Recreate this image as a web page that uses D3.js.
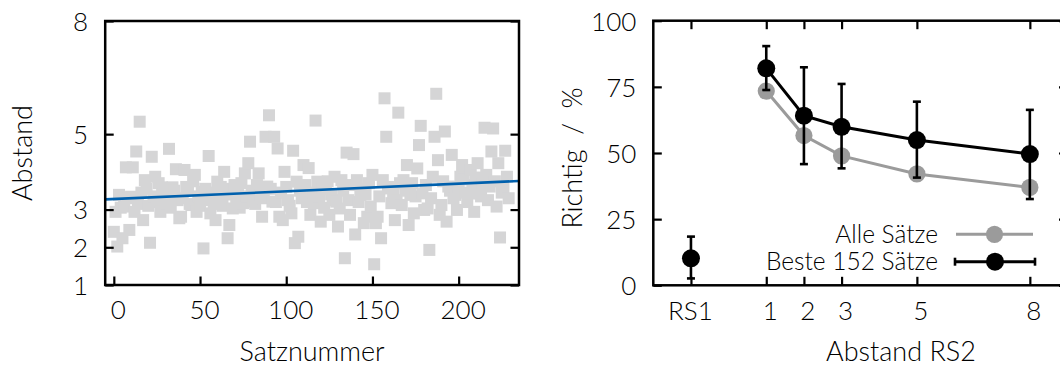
<!DOCTYPE html>
<html>
<head>
<meta charset="utf-8">
<script src="https://cdn.jsdelivr.net/npm/d3@7"></script>
<style>
  html, body { margin: 0; padding: 0; background: #fff; }
  svg { display: block; }
  text { font-family: "Lato Light", Lato, "Open Sans", sans-serif; font-weight: 300; fill: #000; }
</style>
</head>
<body>
<svg id="chart" width="1060" height="367"></svg>
<script>
// ---- Left panel: distance per sentence ----
const abstand = [
  2.41, 2.94, 2.02, 3.39, 3.05, 2.24, 3.08, 4.12, 3.30, 2.46,
  3.34, 4.12, 2.94, 4.54, 3.15, 5.33, 3.45, 2.72, 3.78, 3.55,
  3.10, 2.12, 4.40, 3.35, 3.87, 3.20, 3.70, 2.94, 3.59, 3.40,
  3.25, 3.17, 4.61, 3.05, 3.59, 3.50, 4.07, 3.25, 2.77, 2.81,
  3.30, 4.05, 3.60, 3.52, 3.15, 3.12, 3.75, 3.92, 2.94, 3.35,
  3.10, 3.47, 1.97, 3.55, 3.25, 4.42, 2.90, 3.45, 3.15, 2.72,
  3.74, 3.30, 3.60, 3.10, 4.00, 3.40, 2.24, 2.59, 3.55, 3.03,
  3.65, 3.25, 3.45, 3.05, 3.70, 3.17, 3.96, 3.35, 4.23, 4.80,
  3.50, 3.21, 3.15, 3.65, 3.96, 3.40, 2.81, 3.30, 4.93, 3.61,
  5.50, 3.55, 3.21, 4.93, 3.20, 4.62, 2.81, 3.45, 2.72, 4.00,
  3.60, 3.25, 3.10, 2.90, 4.56, 2.11, 3.74, 2.28, 3.50, 3.30,
  4.18, 3.65, 3.20, 4.10, 2.86, 3.45, 3.17, 5.36, 3.74, 3.35,
  2.68, 3.55, 3.05, 3.65, 3.75, 2.86, 3.40, 3.25, 3.87, 3.21,
  2.55, 3.03, 3.78, 3.50, 1.71, 4.51, 3.25, 2.86, 3.65, 4.47,
  2.34, 3.78, 3.20, 3.39, 3.55, 2.64, 3.40, 2.81, 3.70, 3.08,
  3.92, 1.55, 2.64, 2.81, 3.35, 2.24, 3.78, 5.95, 4.93, 3.60,
  3.56, 3.17, 3.45, 2.72, 3.25, 5.57, 3.70, 3.12, 3.78, 3.50,
  4.18, 2.59, 3.39, 3.70, 2.90, 3.35, 4.09, 4.71, 5.22, 3.43,
  2.99, 3.65, 3.03, 1.93, 3.30, 3.87, 4.93, 6.07, 4.31, 2.86,
  3.12, 3.75, 5.07, 2.68, 3.61, 3.50, 4.45, 3.30, 3.39, 2.99,
  3.60, 3.87, 4.18, 3.80, 3.45, 3.20, 3.43, 4.05, 3.65, 2.94,
  3.85, 4.23, 3.43, 3.35, 3.70, 5.17, 3.92, 3.25, 3.61, 4.54,
  5.15, 3.75, 3.08, 4.23, 2.26, 3.45, 3.55, 4.56, 3.87, 3.30
];
const satznummer = abstand.map((_, i) => i);
// linear fit of distance over sentence number
const fitIntercept = 3.28;
const fitSlope = 0.00203;
const leftXTicks = [0, 50, 100, 150, 200];
const leftYTicks = [1, 2, 3, 5, 8];

// ---- Right panel: accuracy over RS2 distance ----
const rs2Abstand = [1, 2, 3, 5, 8];
const alleSaetze = [73.4, 56.6, 48.9, 42.1, 37.0];
const besteSaetze = [82.0, 64.1, 59.9, 54.9, 49.6];
const besteLow = [73.8, 45.8, 44.2, 40.7, 32.6];
const besteHigh = [90.4, 82.4, 76.1, 69.4, 66.3];
const rs1Label = "RS1";
const rs1Value = 10.2;
const rs1Low = 2.6;
const rs1High = 18.4;
const rightYTicks = [0, 25, 50, 75, 100];
const legendLabels = ["Alle Sätze", "Beste 152 Sätze"];

const svg = d3.select("#chart");
const TICK = 8.5;
const FS = 26;
const GREY = "#9b9b9b";
const fmt = d3.format("d");

// ================= left panel =================
const L = { x0: 105.2, x1: 519, y0: 21, y1: 285 };
const xL = d3.scaleLinear().domain([-5, 235]).range([L.x0, L.x1]);
const yL = d3.scaleLinear().domain([1, 8]).range([L.y1, L.y0]);

const gL = svg.append("g");
const SQ = 12;
gL.append("g").selectAll("rect")
  .data(satznummer)
  .join("rect")
  .attr("x", i => xL(i) - SQ / 2)
  .attr("y", i => yL(abstand[i]) - SQ / 2)
  .attr("width", SQ).attr("height", SQ)
  .attr("fill", "#d5d5d6");

gL.append("line")
  .attr("x1", xL(-5)).attr("y1", yL(fitIntercept + fitSlope * -5))
  .attr("x2", xL(235)).attr("y2", yL(fitIntercept + fitSlope * 235))
  .attr("stroke", "#0060ad").attr("stroke-width", 2.6);

function styleAxis(g, showLabels) {
  g.select(".domain").remove();
  g.selectAll(".tick line").attr("stroke", "#000").attr("stroke-width", 2.2);
  g.selectAll(".tick text").style("font-size", FS + "px").attr("fill", "#000");
  if (!showLabels) g.selectAll(".tick text").remove();
}

gL.append("g").attr("transform", `translate(${L.x0},0)`)
  .call(d3.axisLeft(yL).tickValues(leftYTicks).tickFormat(fmt).tickSize(-TICK).tickPadding(17))
  .call(g => styleAxis(g, true))
  .call(g => g.selectAll(".tick text").attr("dy", "0.36em"));
gL.append("g").attr("transform", `translate(${L.x1},0)`)
  .call(d3.axisRight(yL).tickValues(leftYTicks).tickSize(-TICK))
  .call(g => styleAxis(g, false));
gL.append("g").attr("transform", `translate(0,${L.y1})`)
  .call(d3.axisBottom(xL).tickValues(leftXTicks).tickFormat(fmt).tickSize(-TICK).tickPadding(16))
  .call(g => styleAxis(g, true))
  .call(g => g.selectAll(".tick text").attr("dx", 4));

gL.append("rect")
  .attr("x", L.x0).attr("y", L.y0)
  .attr("width", L.x1 - L.x0).attr("height", L.y1 - L.y0)
  .attr("fill", "none").attr("stroke", "#000").attr("stroke-width", 2.5);

gL.append("text")
  .attr("transform", `translate(32,${(L.y0 + L.y1) / 2}) rotate(-90)`)
  .attr("text-anchor", "middle").style("font-size", (FS + 1) + "px")
  .text("Abstand");
gL.append("text")
  .attr("x", (L.x0 + L.x1) / 2).attr("y", 361)
  .attr("text-anchor", "middle").style("font-size", (FS + 1) + "px")
  .text("Satznummer");

// ================= right panel =================
const R = { x0: 653.3, x1: 1067.5, y0: 20.7, y1: 285.3 };
const RS1_X = -1;
const xR = d3.scaleLinear().domain([-2, 9]).range([R.x0, R.x1]);
const yR = d3.scaleLinear().domain([0, 100]).range([R.y1, R.y0]);
const gR = svg.append("g");

const xTicksR = [RS1_X].concat(rs2Abstand);
gR.append("g").attr("transform", `translate(${R.x0},0)`)
  .call(d3.axisLeft(yR).tickValues(rightYTicks).tickFormat(fmt).tickSize(-TICK).tickPadding(17))
  .call(g => styleAxis(g, true))
  .call(g => g.selectAll(".tick text").attr("dy", "0.36em"));
gR.append("g").attr("transform", `translate(${R.x1},0)`)
  .call(d3.axisRight(yR).tickValues(rightYTicks).tickSize(-TICK))
  .call(g => styleAxis(g, false));
gR.append("g").attr("transform", `translate(0,${R.y1})`)
  .call(d3.axisBottom(xR).tickValues(xTicksR).tickSize(-TICK).tickPadding(16)
    .tickFormat(d => d === RS1_X ? rs1Label : fmt(d)))
  .call(g => styleAxis(g, true))
  .call(g => g.selectAll(".tick text").attr("dx", d => d === RS1_X ? -1 : 3.5));
gR.append("g").attr("transform", `translate(0,${R.y0})`)
  .call(d3.axisTop(xR).tickValues(xTicksR).tickSize(-TICK))
  .call(g => styleAxis(g, false));

const LW = 3, EW = 2.6, CAP = 4, RB = 9, RG = 8.6;
const line = d3.line();

// all sentences (grey)
gR.append("path")
  .attr("d", line(rs2Abstand.map((d, i) => [xR(d), yR(alleSaetze[i])])))
  .attr("fill", "none").attr("stroke", GREY).attr("stroke-width", LW);
gR.append("g").selectAll("circle").data(rs2Abstand).join("circle")
  .attr("cx", d => xR(d)).attr("cy", (d, i) => yR(alleSaetze[i]))
  .attr("r", RG).attr("fill", GREY);

// best sentences (black) with error bars
function errorBar(g, x, lo, hi) {
  const px = xR(x);
  g.append("line").attr("x1", px).attr("x2", px).attr("y1", yR(lo)).attr("y2", yR(hi));
  g.append("line").attr("x1", px - CAP).attr("x2", px + CAP).attr("y1", yR(lo)).attr("y2", yR(lo));
  g.append("line").attr("x1", px - CAP).attr("x2", px + CAP).attr("y1", yR(hi)).attr("y2", yR(hi));
}
const eb = gR.append("g").attr("stroke", "#000").attr("stroke-width", EW);
rs2Abstand.forEach((d, i) => errorBar(eb, d, besteLow[i], besteHigh[i]));
errorBar(eb, RS1_X, rs1Low, rs1High);

gR.append("path")
  .attr("d", line(rs2Abstand.map((d, i) => [xR(d), yR(besteSaetze[i])])))
  .attr("fill", "none").attr("stroke", "#000").attr("stroke-width", LW);
gR.append("g").selectAll("circle").data(rs2Abstand).join("circle")
  .attr("cx", d => xR(d)).attr("cy", (d, i) => yR(besteSaetze[i]))
  .attr("r", RB).attr("fill", "#000");
gR.append("circle").attr("cx", xR(RS1_X)).attr("cy", yR(rs1Value))
  .attr("r", RB).attr("fill", "#000");

// legend
const lg = gR.append("g");
const legY = [234.3, 261.7];
const LFS = 24.5;
lg.append("text").attr("x", 938).attr("y", legY[0]).attr("dy", "0.35em")
  .attr("text-anchor", "end").style("font-size", LFS + "px").text(legendLabels[0]);
lg.append("line").attr("x1", 956).attr("x2", 1033).attr("y1", legY[0]).attr("y2", legY[0])
  .attr("stroke", GREY).attr("stroke-width", LW);
lg.append("circle").attr("cx", 994.5).attr("cy", legY[0]).attr("r", RG).attr("fill", GREY);

lg.append("text").attr("x", 938).attr("y", legY[1]).attr("dy", "0.35em")
  .attr("text-anchor", "end").style("font-size", LFS + "px").text(legendLabels[1]);
const lb = lg.append("g").attr("stroke", "#000");
lb.append("line").attr("x1", 955).attr("x2", 1035).attr("y1", legY[1]).attr("y2", legY[1]).attr("stroke-width", LW);
lb.append("line").attr("x1", 955).attr("x2", 955).attr("y1", legY[1] - CAP).attr("y2", legY[1] + CAP).attr("stroke-width", EW);
lb.append("line").attr("x1", 1035).attr("x2", 1035).attr("y1", legY[1] - CAP).attr("y2", legY[1] + CAP).attr("stroke-width", EW);
lg.append("circle").attr("cx", 995).attr("cy", legY[1]).attr("r", RB).attr("fill", "#000");

gR.append("rect")
  .attr("x", R.x0).attr("y", R.y0)
  .attr("width", R.x1 - R.x0).attr("height", R.y1 - R.y0)
  .attr("fill", "none").attr("stroke", "#000").attr("stroke-width", 2.5);

gR.append("text")
  .attr("transform", `translate(582,158) rotate(-90)`)
  .attr("text-anchor", "middle").style("font-size", (FS + 1) + "px")
  .style("white-space", "pre")
  .text("Richtig  /  %");
gR.append("text")
  .attr("x", 901).attr("y", 361)
  .attr("text-anchor", "middle").style("font-size", (FS + 1) + "px")
  .text("Abstand RS2");
</script>
</body>
</html>
